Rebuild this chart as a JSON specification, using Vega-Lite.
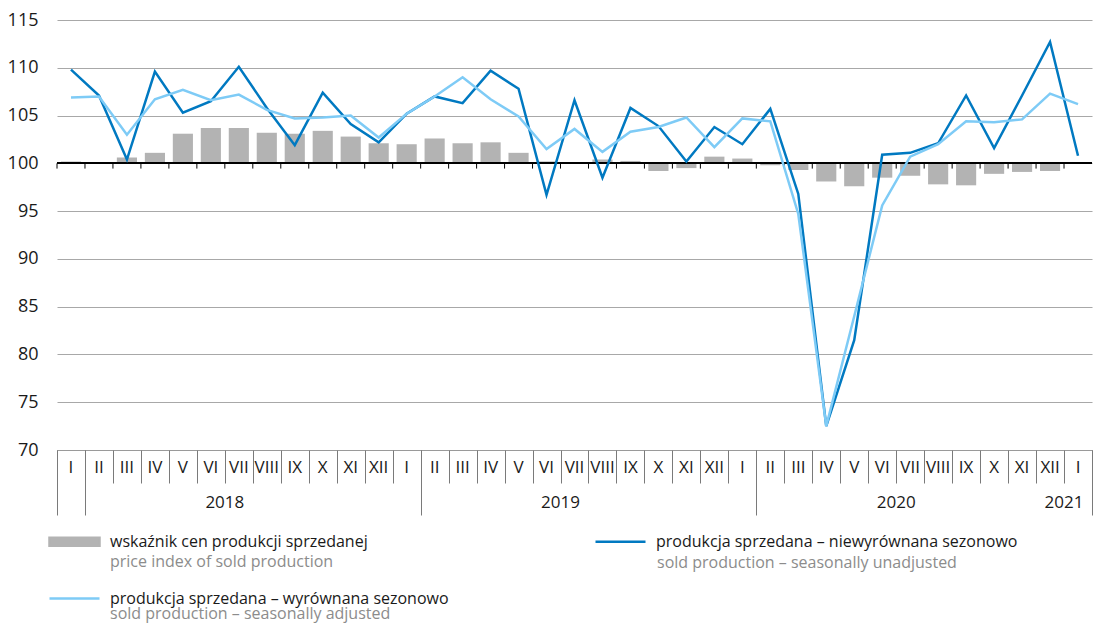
{
  "$schema": "https://vega.github.io/schema/vega-lite/v6.json",
  "width": 1035,
  "height": 430,
  "autosize": {"type": "none"},
  "padding": {"left": 57, "top": 20, "right": 1, "bottom": 173},
  "background": "white",
  "config": {
    "view": {"stroke": null},
    "font": "Open Sans",
    "axis": {"labelFont": "Open Sans", "labelColor": "#1a1a1a", "labelFontSize": 17},
    "legend": {"labelFont": "Open Sans"}
  },
  "data": {
    "values": [
      {"m": "2018-01", "price": 100.2, "unadj": 109.8, "adj": 106.9},
      {"m": "2018-02", "price": 100.0, "unadj": 107.1, "adj": 107.0},
      {"m": "2018-03", "price": 100.6, "unadj": 100.4, "adj": 103.0},
      {"m": "2018-04", "price": 101.1, "unadj": 109.6, "adj": 106.7},
      {"m": "2018-05", "price": 103.1, "unadj": 105.3, "adj": 107.7},
      {"m": "2018-06", "price": 103.7, "unadj": 106.5, "adj": 106.6},
      {"m": "2018-07", "price": 103.7, "unadj": 110.1, "adj": 107.2},
      {"m": "2018-08", "price": 103.2, "unadj": 105.8, "adj": 105.6},
      {"m": "2018-09", "price": 103.1, "unadj": 101.9, "adj": 104.7},
      {"m": "2018-10", "price": 103.4, "unadj": 107.4, "adj": 104.8},
      {"m": "2018-11", "price": 102.8, "unadj": 104.1, "adj": 105.0},
      {"m": "2018-12", "price": 102.1, "unadj": 102.2, "adj": 102.7},
      {"m": "2019-01", "price": 102.0, "unadj": 105.2, "adj": 105.2},
      {"m": "2019-02", "price": 102.6, "unadj": 107.0, "adj": 107.0},
      {"m": "2019-03", "price": 102.1, "unadj": 106.3, "adj": 109.0},
      {"m": "2019-04", "price": 102.2, "unadj": 109.7, "adj": 106.7},
      {"m": "2019-05", "price": 101.1, "unadj": 107.8, "adj": 104.9},
      {"m": "2019-06", "price": 100.2, "unadj": 96.7, "adj": 101.5},
      {"m": "2019-07", "price": 100.0, "unadj": 106.6, "adj": 103.6},
      {"m": "2019-08", "price": 100.4, "unadj": 98.5, "adj": 101.2},
      {"m": "2019-09", "price": 100.25, "unadj": 105.8, "adj": 103.3},
      {"m": "2019-10", "price": 99.2, "unadj": 103.9, "adj": 103.8},
      {"m": "2019-11", "price": 99.5, "unadj": 100.2, "adj": 104.8},
      {"m": "2019-12", "price": 100.7, "unadj": 103.8, "adj": 101.7},
      {"m": "2020-01", "price": 100.5, "unadj": 102.0, "adj": 104.7},
      {"m": "2020-02", "price": 99.8, "unadj": 105.7, "adj": 104.4},
      {"m": "2020-03", "price": 99.3, "unadj": 96.8, "adj": 94.7},
      {"m": "2020-04", "price": 98.1, "unadj": 72.5, "adj": 72.5},
      {"m": "2020-05", "price": 97.6, "unadj": 81.5, "adj": 84.0},
      {"m": "2020-06", "price": 98.5, "unadj": 100.9, "adj": 95.6},
      {"m": "2020-07", "price": 98.7, "unadj": 101.1, "adj": 100.7},
      {"m": "2020-08", "price": 97.8, "unadj": 102.1, "adj": 102.0},
      {"m": "2020-09", "price": 97.7, "unadj": 107.1, "adj": 104.4},
      {"m": "2020-10", "price": 98.9, "unadj": 101.6, "adj": 104.3},
      {"m": "2020-11", "price": 99.1, "unadj": 107.1, "adj": 104.6},
      {"m": "2020-12", "price": 99.2, "unadj": 112.7, "adj": 107.3},
      {"m": "2021-01", "price": 100.1, "unadj": 100.8, "adj": 106.2}
    ]
  },
  "layer": [
    {
      "layer": [
        {
          "mark": {"type": "bar", "width": {"band": 0.72}},
          "encoding": {
            "x": {
              "field": "m", "type": "ordinal",
              "scale": {"type": "band", "paddingInner": 0, "paddingOuter": 0},
              "axis": {
                "orient": "bottom",
                "title": null,
                "labelExpr": "isString(datum.value) ? ['I','II','III','IV','V','VI','VII','VIII','IX','X','XI','XII'][toNumber(substring(datum.value,5,7))-1] : ''",
                "ticks": false,
                "tickSize": 0,
                "labelAngle": 0,
                "labelBaseline": "middle",
                "labelPadding": 17,
                "labelOverlap": false,
                "labelFontSize": 17,
                "domainColor": "#9a9a9a",
                "domainWidth": 1
              }
            },
            "y": {
              "field": "price", "type": "quantitative",
              "scale": {"domain": [70, 115], "nice": false, "zero": false},
              "axis": {
                "title": null,
                "values": [70, 75, 80, 85, 90, 95, 100, 105, 110, 115],
                "domain": false,
                "ticks": false,
                "labelPadding": 19,
                "labelFontSize": 18,
                "gridColor": "#a8a8a8",
                "gridWidth": 1.2
              }
            },
            "y2": {"datum": 100},
            "color": {
              "datum": "price", "type": "nominal",
              "scale": {"domain": ["price", "adj", "unadj"], "range": ["#b3b3b3", "#7ecbf6", "#0079c1"]},
              "legend": {
                "title": null,
                "orient": "none",
                "legendX": -9,
                "legendY": 495,
                "columns": 2,
                "symbolSize": 2500,
                "symbolType": "M-1,-1M1,1M-1,-0.11H1V0.11H-1Z",
                "symbolStrokeWidth": 2.5,
                "labelOffset": 9,
                "labelFontSize": 16,
                "labelColor": "#1a1a1a",
                "labelLimit": 600,
                "columnPadding": 141,
                "rowPadding": -10,
                "padding": 0,
                "labelExpr": "datum.value === 'price' ? 'wskaźnik cen produkcji sprzedanej' : datum.value === 'unadj' ? 'produkcja sprzedana – niewyrównana sezonowo' : 'produkcja sprzedana – wyrównana sezonowo'",
                "encoding": {
                  "symbols": {
                    "shape": {"value": {"expr": "datum.value === 'price' ? 'M-1,-1M1,1M-1,-0.16H1V0.16H-1Z' : 'M-1,-1M1,1M-1,0H1'"}},
                    "fill": {"value": {"expr": "datum.value === 'price' ? '#b3b3b3' : 'transparent'"}},
                    "stroke": {"value": {"expr": "datum.value === 'price' ? 'transparent' : (datum.value === 'unadj' ? '#0079c1' : '#7ecbf6')"}},
                    "strokeWidth": {"value": 2.5},
                    "opacity": {"value": 1}
                  }
                }
              }
            }
          }
        },
        {
          "mark": {"type": "rule", "color": "#000000", "strokeWidth": 1.3},
          "encoding": {"y": {"datum": 100}}
        },
        {
          "mark": {"type": "rule", "color": "#000000", "strokeWidth": 1},
          "encoding": {
            "x": {"field": "m", "type": "ordinal", "bandPosition": 0},
            "y": {"datum": 100},
            "y2": {"datum": 99.45}
          }
        },
        {
          "mark": {"type": "line", "strokeWidth": 2.5},
          "encoding": {
            "x": {"field": "m", "type": "ordinal"},
            "y": {"field": "unadj", "type": "quantitative"},
            "color": {"datum": "unadj", "type": "nominal"}
          }
        },
        {
          "mark": {"type": "line", "strokeWidth": 2.5},
          "encoding": {
            "x": {"field": "m", "type": "ordinal"},
            "y": {"field": "adj", "type": "quantitative"},
            "color": {"datum": "adj", "type": "nominal"}
          }
        },
        {
          "data": {
            "values": [
              {"en": "price index of sold production"},
              {"en": "sold production – seasonally adjusted"},
              {"en": "sold production – seasonally unadjusted"}
            ]
          },
          "mark": {"type": "point", "opacity": 0},
          "encoding": {
            "shape": {
              "field": "en", "type": "nominal",
              "scale": {"domain": ["price index of sold production", "sold production – seasonally adjusted", "sold production – seasonally unadjusted"]},
              "legend": {
                "title": null,
                "orient": "none",
                "legendX": -9,
                "legendY": 515,
                "columns": 2,
                "symbolSize": 2500,
                "symbolType": "M-1,-1M1,1M-1,-0.11H1V0.11H-1Z",
                "symbolStrokeWidth": 2.5,
                "symbolOpacity": 0,
                "labelOffset": 9,
                "labelFontSize": 16,
                "labelColor": "#8c8c8c",
                "labelLimit": 600,
                "columnPadding": 204,
                "rowPadding": -3,
                "padding": 0
              }
            }
          }
        }
      ]
    },
    {
      "mark": {"type": "point", "opacity": 0},
      "encoding": {
        "x": {
          "field": "m", "type": "ordinal",
          "scale": {"type": "band", "paddingInner": 0, "paddingOuter": 0},
          "axis": {
            "orient": "bottom",
            "title": null,
            "values": ["2018-01", "2018-02", "2018-03", "2018-04", "2018-05", "2018-06", "2018-07", "2018-08", "2018-09", "2018-10", "2018-11", "2018-12", "2019-01", "2019-02", "2019-03", "2019-04", "2019-05", "2019-06", "2019-07", "2019-08", "2019-09", "2019-10", "2019-11", "2019-12", "2020-01", "2020-02", "2020-03", "2020-04", "2020-05", "2020-06", "2020-07", "2020-08", "2020-09", "2020-10", "2020-11", "2020-12", "2021-01"],
            "labels": false,
            "tickBand": "extent",
            "tickSize": 33,
            "tickColor": "#7a7a7a",
            "tickWidth": 1,
            "domain": false
          }
        }
      }
    },
    {
      "mark": {"type": "point", "opacity": 0},
      "encoding": {
        "x": {
          "field": "m", "type": "ordinal",
          "scale": {"type": "band", "paddingInner": 0, "paddingOuter": 0},
          "axis": {
            "orient": "bottom",
            "title": null,
            "values": ["2018-01", "2019-01", "2020-01", "2021-01"],
            "labels": false,
            "tickBand": "extent",
            "tickSize": 65,
            "tickColor": "#7a7a7a",
            "tickWidth": 1,
            "domain": false
          }
        }
      }
    },
    {
      "mark": {"type": "point", "opacity": 0},
      "encoding": {
        "x": {
          "field": "m", "type": "ordinal",
          "scale": {"type": "band", "paddingInner": 0, "paddingOuter": 0},
          "axis": {
            "orient": "bottom",
            "title": null,
            "values": ["2018-07", "2019-07", "2020-07", "2021-01"],
            "labelExpr": "isString(datum.value) ? substring(datum.value, 0, 4) : ''",
            "ticks": false,
            "tickSize": 0,
            "domain": false,
            "labelAngle": 0,
            "labelBaseline": "middle",
            "labelPadding": 52,
            "labelOffset": -14,
            "labelOverlap": false,
            "labelFontSize": 17
          }
        }
      }
    }
  ],
  "resolve": {"scale": {"x": "independent"}}
}
